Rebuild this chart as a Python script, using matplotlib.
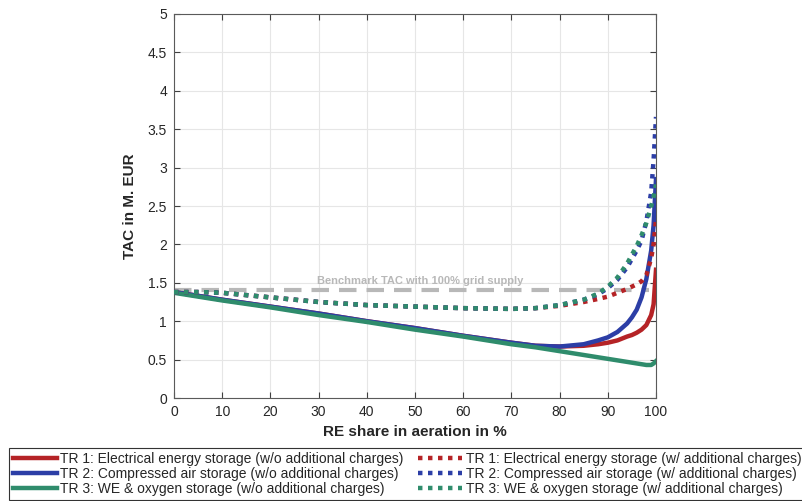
import matplotlib.pyplot as plt
import numpy as np

plt.rcParams['font.family'] = ['Liberation Sans', 'DejaVu Sans']

# ---- data ----
x_sol = [0, 10, 20, 30, 40, 50, 60, 70, 75, 80, 85, 88, 90, 92, 94, 95, 96, 97, 98, 99, 99.5, 100]
tr1_wo = [1.38, 1.28, 1.19, 1.10, 1.00, 0.91, 0.81, 0.72, 0.68, 0.67, 0.68, 0.70, 0.72, 0.75, 0.80, 0.82, 0.85, 0.89, 0.95, 1.08, 1.22, 1.67]
tr2_wo = [1.38, 1.28, 1.19, 1.10, 1.00, 0.91, 0.81, 0.72, 0.68, 0.67, 0.70, 0.75, 0.79, 0.86, 0.97, 1.05, 1.15, 1.31, 1.55, 1.92, 2.25, 2.85]
tr3_wo = [1.37, 1.27, 1.18, 1.08, 0.99, 0.89, 0.80, 0.70, 0.66, 0.61, 0.56, 0.53, 0.51, 0.49, 0.47, 0.46, 0.45, 0.44, 0.43, 0.43, 0.45, 0.48]

x_dot = [0, 5, 10, 20, 30, 40, 50, 60, 70, 75, 80, 85, 88, 90, 92, 94, 96, 97, 98, 99, 99.5, 100]
tr1_w = [1.38, 1.38, 1.37, 1.31, 1.25, 1.21, 1.19, 1.17, 1.16, 1.17, 1.20, 1.25, 1.29, 1.32, 1.37, 1.42, 1.48, 1.52, 1.60, 1.82, 2.00, 2.32]
tr2_w = [1.38, 1.38, 1.37, 1.31, 1.25, 1.21, 1.19, 1.17, 1.16, 1.17, 1.21, 1.28, 1.35, 1.43, 1.54, 1.70, 1.92, 2.05, 2.30, 2.68, 3.10, 3.66]
tr3_w = [1.38, 1.38, 1.37, 1.31, 1.25, 1.21, 1.19, 1.17, 1.16, 1.17, 1.21, 1.28, 1.36, 1.45, 1.57, 1.75, 1.98, 2.12, 2.28, 2.50, 2.62, 2.78]

bench_x = [0, 98.5]
bench_y = [1.40, 1.40]
bench_label = "Benchmark TAC with 100% grid supply"

labels_wo = ["TR 1: Electrical energy storage (w/o additional charges)",
             "TR 2: Compressed air storage (w/o additional charges)",
             "TR 3: WE & oxygen storage (w/o additional charges)"]
labels_w = ["TR 1: Electrical energy storage (w/ additional charges)",
            "TR 2: Compressed air storage (w/ additional charges)",
            "TR 3: WE & oxygen storage (w/ additional charges)"]

c_red = '#b52326'
c_blue = '#2c3ea6'
c_green = '#2f8c6c'
c_bench = '#b8b8b8'
txt = '#262626'

fig = plt.figure(figsize=(8.02, 5.01), dpi=100)
ax = fig.add_axes([174 / 802, 1 - 398 / 501, 482 / 802, 384 / 501])

ax.plot(bench_x, bench_y, color=c_bench, lw=3, dashes=(4.2, 2.4), solid_capstyle='butt', zorder=2)
ax.text(51, 1.52, bench_label, color=c_bench, fontsize=8, fontweight='bold', ha='center', va='center', zorder=2)

hs = []
for y, c, l in zip([tr1_wo, tr2_wo, tr3_wo], [c_red, c_blue, c_green], labels_wo):
    h, = ax.plot(x_sol, y, color=c, lw=3.2, label=l, zorder=3, solid_joinstyle='round')
    hs.append(h)
for y, c, l in zip([tr1_w, tr2_w, tr3_w], [c_red, c_blue, c_green], labels_w):
    h, = ax.plot(x_dot, y, color=c, lw=3.2, dashes=(1, 1.25), dash_capstyle='butt', label=l, zorder=4)
    hs.append(h)

ax.set_xlim(0, 100)
ax.set_ylim(0, 5)
ax.set_xticks(np.arange(0, 101, 10))
ax.set_yticks(np.arange(0, 5.01, 0.5))
ax.set_yticklabels(['0', '0.5', '1', '1.5', '2', '2.5', '3', '3.5', '4', '4.5', '5'])
ax.grid(True, color='#e6e6e6', lw=0.8)
ax.set_axisbelow(True)
ax.tick_params(direction='in', length=4, colors='#404040', labelcolor=txt, labelsize=10,
               top=True, right=True, pad=5)
for s in ax.spines.values():
    s.set_color('#5a5a5a')
    s.set_linewidth(0.8)
ax.set_xlabel('RE share in aeration in %', fontsize=11, fontweight='bold', color=txt, labelpad=4)
ax.set_ylabel('TAC in M. EUR', fontsize=11, fontweight='bold', color=txt, labelpad=8)

leg = fig.legend(hs, [h.get_label() for h in hs], loc='upper left',
                 bbox_to_anchor=(9 / 802, 1 - 447.5 / 501), ncol=2, fontsize=10,
                 frameon=True, fancybox=False, edgecolor='#333333', framealpha=1,
                 borderaxespad=0, handlelength=3.15, handletextpad=0.25,
                 columnspacing=1.05, labelspacing=0.08, borderpad=0.3)
leg.get_frame().set_linewidth(0.8)
for t in leg.get_texts():
    t.set_color(txt)

fig.savefig('out.png', dpi=100)
